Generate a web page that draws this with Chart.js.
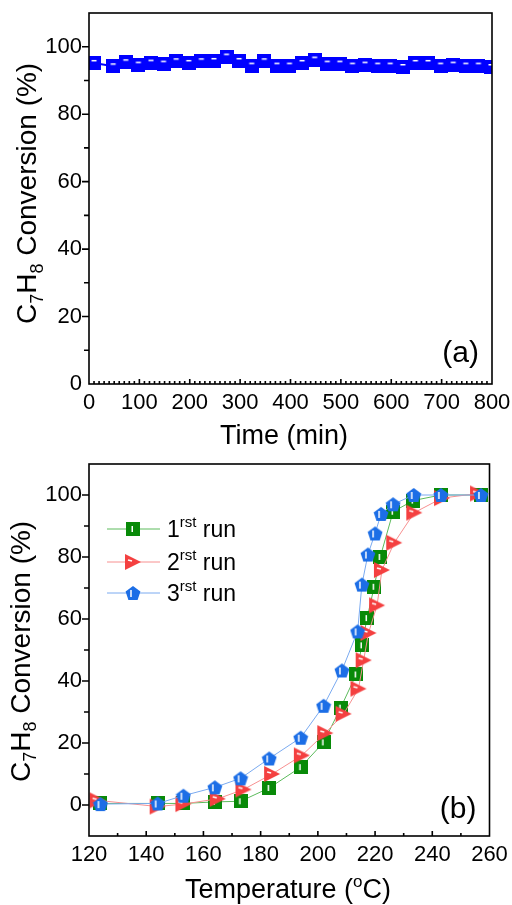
<!DOCTYPE html>
<html>
<head>
<meta charset="utf-8">
<script src="https://cdn.jsdelivr.net/npm/chart.js@4.4.0/dist/chart.umd.min.js"></script>
<style>
html, body { margin: 0; padding: 0; background: #fff; }
#wrap { position: relative; width: 512px; height: 905px; }
#chartA { position: absolute; left: 0; top: 0; }
#chartB { position: absolute; left: 0; top: 450px; }
</style>
</head>
<body>
<div id="wrap">
  <canvas id="chartA" width="512" height="450"></canvas>
  <canvas id="chartB" width="512" height="455"></canvas>
</div>
<script>
// (a) stability test
var timeMin = [10, 48, 73, 98, 123, 148, 173, 198, 223, 248, 273, 298, 323, 348, 373, 398,
               423, 448, 473, 498, 523, 548, 573, 598, 623, 648, 673, 698, 723, 748, 773, 798];
var stability = [95.2, 94.2, 95.4, 94.7, 95.3, 95.0, 95.7, 95.2, 95.7, 95.8, 97.1, 95.8, 94.4, 95.7, 94.4, 94.4,
                 95.2, 96.2, 95.0, 95.0, 94.4, 94.7, 94.4, 94.4, 94.0, 95.2, 95.2, 94.4, 94.7, 94.4, 94.4, 94.0];

// (b) light-off curves, three runs
var temp1 = [124, 144, 153, 164, 173, 183, 194, 202, 208, 213.4, 215.4, 217.2, 219.7, 221.8, 226.3, 233.3, 243, 257];
var conv1 = [0.5, 0.5, 0.5, 1, 1.2, 5.5, 12.2, 20.2, 31.4, 42.1, 51.5, 60.3, 70.4, 80, 94.6, 98.2, 100, 100];
var temp2 = [123, 144, 153, 165, 174, 184, 194.4, 202.6, 209, 214.2, 216, 217.7, 220.7, 222.4, 226.7, 233.7, 243.4, 256];
var conv2 = [1.5, -0.5, 0.3, 2, 5, 10, 16, 23.2, 29.4, 37.5, 46.7, 55.5, 64.4, 75.8, 84.6, 94.3, 99, 100.5];
var temp3 = [124, 144, 153, 164, 173, 183, 194, 202, 208.4, 213.9, 215.4, 217.5, 220, 222.1, 226.3, 233.5, 243, 257];
var conv3 = [0.3, 0.5, 3, 5.7, 8.6, 15, 21.7, 32, 43.4, 56, 71.1, 80.8, 87.6, 93.9, 97, 100, 100, 100];

var runNames = ['1', '2', '3'];
var timeTicks = [0, 800, 100];
var tempTicks = [120, 260, 20];

var FONT = '"Liberation Sans", Arial, sans-serif';

function pts(xs, ys) {
    return xs.map(function (x, i) { return { x: x, y: ys[i] }; });
}

function markImg(w, h, draw) {
    var c = document.createElement('canvas');
    c.width = w; c.height = h;
    draw(c.getContext('2d'), w, h);
    return c;
}

// symbols: Origin-like filled markers with the small white stroke inside
var sqBlue = markImg(14, 14, function (g) {
    g.fillStyle = '#0000ff'; g.fillRect(0, 0, 14, 14);
    g.fillStyle = '#fff'; g.fillRect(4.5, 4, 5, 1.5);
});
var sqGreen = markImg(14, 14, function (g) {
    g.fillStyle = '#088a08'; g.fillRect(0, 0, 14, 14);
    g.fillStyle = '#fff'; g.fillRect(5.5, 4, 1.5, 6);
});
var triRed = markImg(18, 18, function (g) {
    g.fillStyle = '#f44040';
    g.beginPath(); g.moveTo(1, 1); g.lineTo(17, 9); g.lineTo(1, 17); g.closePath(); g.fill();
    g.strokeStyle = '#fff'; g.lineWidth = 1.5;
    g.beginPath(); g.moveTo(4, 7); g.lineTo(8, 8); g.stroke();
});
var pentBlue = markImg(16, 16, function (g) {
    g.fillStyle = '#1c6ee6';
    g.beginPath();
    for (var k = 0; k < 5; k++) {
        var a = -Math.PI / 2 + k * 2 * Math.PI / 5;
        var px = 8 + 7.8 * Math.cos(a), py = 8.8 + 7.8 * Math.sin(a);
        if (k === 0) g.moveTo(px, py); else g.lineTo(px, py);
    }
    g.closePath(); g.fill();
    g.strokeStyle = '#fff'; g.lineWidth = 1.5;
    g.beginPath(); g.moveTo(6, 5); g.lineTo(6, 12); g.stroke();
});

function drawRich(ctx, parts, x, y, align) {
    var w = 0;
    parts.forEach(function (p) { ctx.font = p[1] + 'px ' + FONT; w += ctx.measureText(p[0]).width; });
    var cx = align === 'center' ? x - w / 2 : x;
    ctx.textAlign = 'left';
    ctx.textBaseline = 'alphabetic';
    parts.forEach(function (p) {
        ctx.font = p[1] + 'px ' + FONT;
        ctx.fillText(p[0], cx, y + p[2]);
        cx += ctx.measureText(p[0]).width;
    });
}

var yTitleParts = [['C', 28, 0], ['7', 18, 6.5], ['H', 28, 0], ['8', 18, 6.5], [' Conversion (%)', 28, 0]];

// frame, tick marks, axis titles, panel label
var decor = {
    id: 'decor',
    afterDatasetsDraw: function (chart, args, o) {
        var a = chart.chartArea, ctx = chart.ctx, xs = chart.scales.x, ys = chart.scales.y;
        ctx.save();
        ctx.strokeStyle = '#000';
        ctx.lineWidth = 1.6;
        ctx.strokeRect(a.left, a.top, a.right - a.left, a.bottom - a.top);
        ctx.beginPath();
        ys.ticks.forEach(function (t) {
            if (t.value <= ys.min || t.value >= ys.max) return;
            var p = ys.getPixelForValue(t.value);
            var len = t.value % 20 === 0 ? 7 : 5;
            ctx.moveTo(a.left - len, p); ctx.lineTo(a.left, p);
        });
        for (var v = xs.min + o.minor; v < xs.max; v += o.minor) {
            var px = xs.getPixelForValue(v);
            var major = Math.abs((v - xs.min) % o.major) < 1e-6;
            ctx.moveTo(px, a.bottom); ctx.lineTo(px, a.bottom - (major ? 5 : 3));
        }
        ctx.stroke();

        ctx.fillStyle = '#000';
        ctx.save();
        ctx.translate(o.yTitleX, o.yTitleStart);
        ctx.rotate(-Math.PI / 2);
        drawRich(ctx, yTitleParts, 0, 0, 'left');
        ctx.restore();
        drawRich(ctx, o.xTitle, o.xTitleX, o.xTitleY, 'center');
        ctx.font = '30px ' + FONT;
        ctx.textAlign = 'right';
        ctx.fillText(o.label, a.right - 13, o.labelY);
        ctx.restore();
    }
};

var runLegend = {
    id: 'runLegend',
    afterDatasetsDraw: function (chart) {
        var ctx = chart.ctx;
        var rows = [79, 112, 143];
        ctx.save();
        chart.data.datasets.forEach(function (ds, i) {
            var y = rows[i];
            ctx.strokeStyle = ds.borderColor; ctx.lineWidth = 1;
            ctx.beginPath(); ctx.moveTo(107, y); ctx.lineTo(160, y); ctx.stroke();
            var img = ds.pointStyle;
            ctx.drawImage(img, 133 - img.width / 2, y - img.height / 2);
            ctx.fillStyle = '#000';
            drawRich(ctx, [[runNames[i], 23, 0], ['rst', 15, -10], [' run', 23, 0]], 167, y + 8, 'left');
        });
        ctx.restore();
    }
};

function axisOpts(min, max, step, cb, size) {
    return {
        type: 'linear', min: min, max: max,
        ticks: { stepSize: step, maxRotation: 0, autoSkip: false, color: '#000',
                 font: { family: FONT, size: 22 }, callback: cb, padding: 6 },
        grid: { display: false, drawTicks: false },
        border: { display: false },
        afterFit: function (s) {
            if (s.isHorizontal()) s.height = size; else s.width = size;
            // let layout.padding alone set the plot box
            s.paddingLeft = s.paddingRight = s.paddingTop = s.paddingBottom = 0;
        }
    };
}

var yCb = function (v) { return v % 20 === 0 ? String(v) : ''; };
var xCb = function (v) { return String(v); };

var yA = axisOpts(0, 110, 10, yCb, 89);
yA.ticks.padding = 7;
var yB = axisOpts(-10, 110, 10, yCb, 89);
yB.ticks.padding = 7;

new Chart(document.getElementById('chartA'), {
    type: 'line',
    data: {
        datasets: [{
            data: pts(timeMin, stability),
            borderColor: '#0000ff', borderWidth: 2,
            pointStyle: sqBlue, pointRadius: 7, tension: 0, fill: false
        }]
    },
    options: {
        responsive: false, animation: false, events: [],
        layout: { padding: { top: 13, right: 20, left: 0, bottom: 0 } },
        plugins: {
            legend: { display: false }, tooltip: { enabled: false },
            decor: { minor: 10, major: 100, yTitleX: 36, yTitleStart: 324,
                     xTitle: [['Time (min)', 27, 0]], xTitleX: 284, xTitleY: 444,
                     label: '(a)', labelY: 362 }
        },
        scales: {
            x: axisOpts(timeTicks[0], timeTicks[1], timeTicks[2], xCb, 66),
            y: yA
        }
    },
    plugins: [decor]
});

new Chart(document.getElementById('chartB'), {
    type: 'line',
    data: {
        datasets: [
            { data: pts(temp1, conv1), borderColor: '#5cbb5c', borderWidth: 1,
              pointStyle: sqGreen, pointRadius: 7, tension: 0, order: 3 },
            { data: pts(temp2, conv2), borderColor: '#f79090', borderWidth: 1,
              pointStyle: triRed, pointRadius: 8, tension: 0, order: 2 },
            { data: pts(temp3, conv3), borderColor: '#7aaaf0', borderWidth: 1,
              pointStyle: pentBlue, pointRadius: 8, tension: 0, order: 1 }
        ]
    },
    options: {
        responsive: false, animation: false, events: [],
        layout: { padding: { top: 14, right: 22.5, left: 0, bottom: 0 } },
        plugins: {
            legend: { display: false }, tooltip: { enabled: false },
            decor: { minor: 10, major: 20, yTitleX: 29.5, yTitleStart: 332,
                     xTitle: [['Temperature (', 27, 0], ['o', 17, -11], ['C)', 27, 0]], xTitleX: 288, xTitleY: 448,
                     label: '(b)', labelY: 368 }
        },
        scales: {
            x: axisOpts(tempTicks[0], tempTicks[1], tempTicks[2], xCb, 69),
            y: yB
        }
    },
    plugins: [decor, runLegend]
});
</script>
</body>
</html>
